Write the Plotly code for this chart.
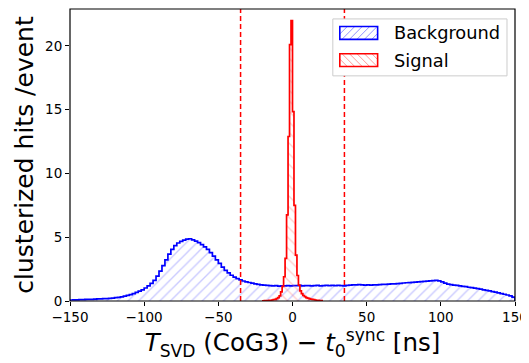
import numpy as np
import plotly.graph_objects as go

# Background histogram: 2 ns bins from -150 to 150 (values per bin)
bg_edges_start, bg_edges_stop, bg_bin = -150, 150, 2
background = [
    0.08, 0.09, 0.09, 0.10, 0.11, 0.12, 0.12, 0.13, 0.15, 0.16,
    0.17, 0.18, 0.19, 0.21, 0.23, 0.26, 0.29, 0.33, 0.38, 0.44,
    0.50, 0.58, 0.67, 0.78, 0.88, 1.02, 1.18, 1.38, 1.62, 1.95,
    2.35, 2.78, 3.22, 3.68, 4.05, 4.35, 4.55, 4.68, 4.78, 4.86,
    4.88, 4.80, 4.70, 4.58, 4.42, 4.25, 4.05, 3.80, 3.52, 3.22,
    2.95, 2.65, 2.40, 2.20, 2.02, 1.88, 1.76, 1.65, 1.57, 1.50,
    1.45, 1.40, 1.35, 1.30, 1.26, 1.24, 1.22, 1.20, 1.18, 1.21,
    1.17, 1.19, 1.18, 1.20, 1.19, 1.21, 1.20, 1.22, 1.19, 1.21,
    1.20, 1.18, 1.21, 1.22, 1.19, 1.20, 1.23, 1.21, 1.22, 1.20,
    1.22, 1.21, 1.19, 1.22, 1.25, 1.27, 1.26, 1.28, 1.27, 1.25,
    1.26, 1.24, 1.26, 1.27, 1.29, 1.30, 1.31, 1.33, 1.34, 1.35,
    1.37, 1.39, 1.41, 1.43, 1.44, 1.46, 1.48, 1.50, 1.52, 1.54,
    1.56, 1.58, 1.60, 1.61, 1.58, 1.50, 1.40, 1.33, 1.29, 1.25,
    1.22, 1.19, 1.15, 1.12, 1.08, 1.05, 1.01, 0.97, 0.93, 0.88,
    0.83, 0.79, 0.74, 0.69, 0.63, 0.58, 0.53, 0.47, 0.40, 0.30,
]

# Signal histogram: 1 ns bins from -20 to 20
sig_edges_start, sig_edges_stop, sig_bin = -20, 20, 1
signal = [
    0.02, 0.03, 0.03, 0.04, 0.05, 0.06, 0.08, 0.10, 0.13, 0.18,
    0.26, 0.40, 0.72, 1.15, 1.90, 3.35, 6.75, 12.9, 20.1, 22.0,
    14.85, 7.5, 3.6, 2.0, 1.25, 0.80, 0.58, 0.43, 0.34, 0.27,
    0.22, 0.18, 0.15, 0.12, 0.10, 0.08, 0.06, 0.05, 0.04, 0.03,
]

series_names = ["Background", "Signal"]
series_colors = ["#0000ff", "#ff0000"]
hatch_colors = ["rgba(110,110,255,0.75)", "rgba(255,110,110,0.7)"]
hatch_shapes = ["/", "\\"]

cut_lines = [-35, 35]
x_ticks = [-150, -100, -50, 0, 50, 100, 150]
y_ticks = [0, 5, 10, 15, 20]


def step_xy(start, stop, width, vals):
    edges = list(np.arange(start, stop + width / 2, width))
    xs = [edges[0]] + edges
    ys = [0] + list(vals) + [0]
    return xs, ys


bx, by = step_xy(bg_edges_start, bg_edges_stop, bg_bin, background)
sx, sy = step_xy(sig_edges_start, sig_edges_stop, sig_bin, signal)

fig = go.Figure()
for (xs, ys), name, col, hcol, hsh in zip([(bx, by), (sx, sy)], series_names,
                                          series_colors, hatch_colors, hatch_shapes):
    fig.add_trace(go.Scatter(
        x=xs, y=ys, mode="lines", line=dict(color=col, width=1.7, shape="hv"),
        fill="tozeroy", fillcolor="rgba(0,0,0,0)",
        fillpattern=dict(shape=hsh, fgcolor=hcol, bgcolor="rgba(0,0,0,0)",
                         size=7.5, solidity=0.18),
        name=name, showlegend=False,
    ))

for xv in cut_lines:
    fig.add_shape(type="line", x0=xv, x1=xv, y0=0, y1=1, xref="x", yref="paper",
                  line=dict(color="#ff0000", width=1.5, dash="5px,3px"))

# Axes frame
fig.add_shape(type="rect", xref="paper", yref="paper", x0=0, x1=1, y0=0, y1=1,
              line=dict(color="black", width=1.2), fillcolor="rgba(0,0,0,0)", layer="above")

# Manual legend (paper coordinates of the plot area)
W_PX, H_PX = 447.0, 292.0
fig.add_shape(type="rect", xref="paper", yref="paper",
              x0=0.5906, x1=0.982, y0=0.771, y1=0.966,
              line=dict(color="#cccccc", width=1), fillcolor="white",
              layer="above")
rows_y = [(0.896, 0.940), (0.803, 0.847)]
bx0, bx1 = 0.6063, 0.6913
for (y0, y1), name, col, hcol, hsh in zip(rows_y, series_names, series_colors,
                                          hatch_colors, hatch_shapes):
    hpx = (y1 - y0) * H_PX
    wpx = (bx1 - bx0) * W_PX
    step = 7.5
    k = -hpx
    while k < wpx:
        xa, xb = k, k + hpx
        ya, yb = 0.0, hpx
        if xa < 0:
            ya = -xa
            xa = 0
        if xb > wpx:
            yb = hpx - (xb - wpx)
            xb = wpx
        if hsh == "/":
            p0 = (bx0 + xa / W_PX, y0 + ya / H_PX)
            p1 = (bx0 + xb / W_PX, y0 + yb / H_PX)
        else:
            p0 = (bx0 + xa / W_PX, y1 - ya / H_PX)
            p1 = (bx0 + xb / W_PX, y1 - yb / H_PX)
        fig.add_shape(type="line", xref="paper", yref="paper",
                      x0=p0[0], y0=p0[1], x1=p1[0], y1=p1[1],
                      line=dict(color=hcol, width=1), layer="above")
        k += step
    fig.add_shape(type="rect", xref="paper", yref="paper",
                  x0=bx0, x1=bx1, y0=y0, y1=y1,
                  line=dict(color=col, width=1.6), fillcolor="rgba(0,0,0,0)",
                  layer="above")
    fig.add_annotation(x=0.7233, y=(y0 + y1) / 2, xref="paper", yref="paper",
                       text=name, showarrow=False, xanchor="left", yanchor="middle",
                       font=dict(size=17.8, color="black"))

fig.update_layout(
    width=521, height=355,
    margin=dict(l=62, r=12, t=1, b=62),
    paper_bgcolor="white", plot_bgcolor="white",
    font=dict(family="DejaVu Sans", color="black", size=14),
    showlegend=False,
)
fig.update_xaxes(
    range=[-150, 150], tickvals=x_ticks, showgrid=False, zeroline=False,
    showline=False, ticklabeloverflow="allow",
    ticks="outside", ticklen=4, tickcolor="black", tickfont=dict(size=13.5),
    title=dict(text="<i>T</i><sub>SVD</sub> (CoG3) − <i>t</i><sub>0</sub><sup>sync</sup> [ns]",
               font=dict(size=24.5), standoff=0),
)
fig.update_yaxes(
    range=[0, 22.9], tickvals=y_ticks, showgrid=False, zeroline=False,
    showline=False,
    ticks="outside", ticklen=4, tickcolor="black", tickfont=dict(size=13.5),
    title=dict(text="clusterized hits /event", font=dict(size=25), standoff=4),
)

fig.write_html("out.html")
